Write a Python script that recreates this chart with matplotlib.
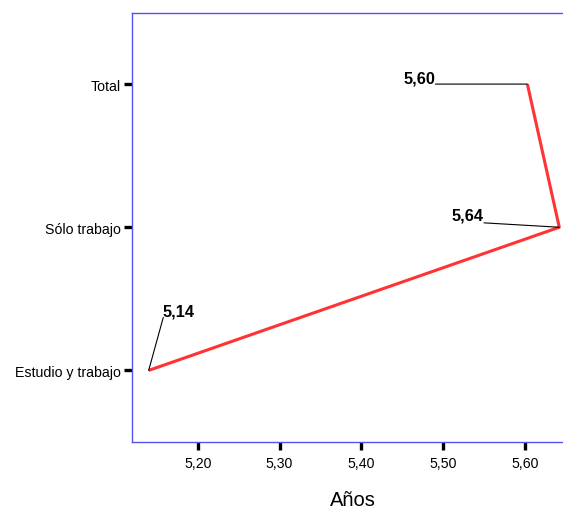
import matplotlib
matplotlib.use("Agg")
import matplotlib.pyplot as plt

categories = ["Estudio y trabajo", "Sólo trabajo", "Total"]
values = [5.140, 5.642, 5.603]
xticks = [5.20, 5.30, 5.40, 5.50, 5.60]
xlabel = "Años"

plt.rcParams['font.family'] = ['Liberation Sans', 'DejaVu Sans']

W, H = 563, 510
fig = plt.figure(figsize=(W / 100, H / 100), dpi=100)
left, right, top, bottom = 131.5, 574.0, 13.5, 443.0
ax = fig.add_axes([left / W, 1 - bottom / H, (right - left) / W, (bottom - top) / H])

ypos = list(range(len(categories)))
# line drawn from Total -> Sólo trabajo -> Estudio y trabajo
ax.plot(values[::-1], ypos[::-1], color='#ff3333', lw=2.2, solid_capstyle='butt', zorder=3)

ax.set_xlim(5.119, 5.660)
ax.set_ylim(-0.5, 2.5)
ax.set_xticks(xticks)
ax.set_xticklabels([f"{v:.2f}".replace('.', ',') for v in xticks])
ax.set_yticks(ypos)
ax.set_yticklabels(categories)

for s in ['left', 'top', 'bottom', 'right']:
    ax.spines[s].set_color('#5555ee')
    ax.spines[s].set_linewidth(1.0)

ax.tick_params(axis='both', colors='black', labelsize=10.2, width=2.4)
ax.tick_params(axis='y', length=5.5, pad=2.0)
ax.tick_params(axis='x', length=6, pad=4.0)

ax.set_xlabel(xlabel, fontsize=14.5, labelpad=14.5)

# leader lines and labels (pixel offsets)
leader = {
    0: ((14.6, 53), (14.0, 55.0), 'left'),
    1: ((-75.3, 4.4), (-76.0, 7.7), 'right'),
    2: ((-92.0, 0.0), (-92.0, 1.7), 'right'),
}
for i, v in enumerate(values):
    (lx, ly), (tx, ty), ha = leader[i]
    ax.annotate('', xy=(v, ypos[i]), xytext=(lx, ly), textcoords='offset pixels',
                arrowprops=dict(arrowstyle='-', color='black', lw=0.8, shrinkA=0, shrinkB=0),
                annotation_clip=False)
    ax.annotate(f"{v:.2f}".replace('.', ','), xy=(v, ypos[i]), xytext=(tx, ty),
                textcoords='offset pixels', ha=ha, va='baseline',
                fontsize=11.8, fontweight='bold', annotation_clip=False)

fig.savefig('out.png', dpi=100)
